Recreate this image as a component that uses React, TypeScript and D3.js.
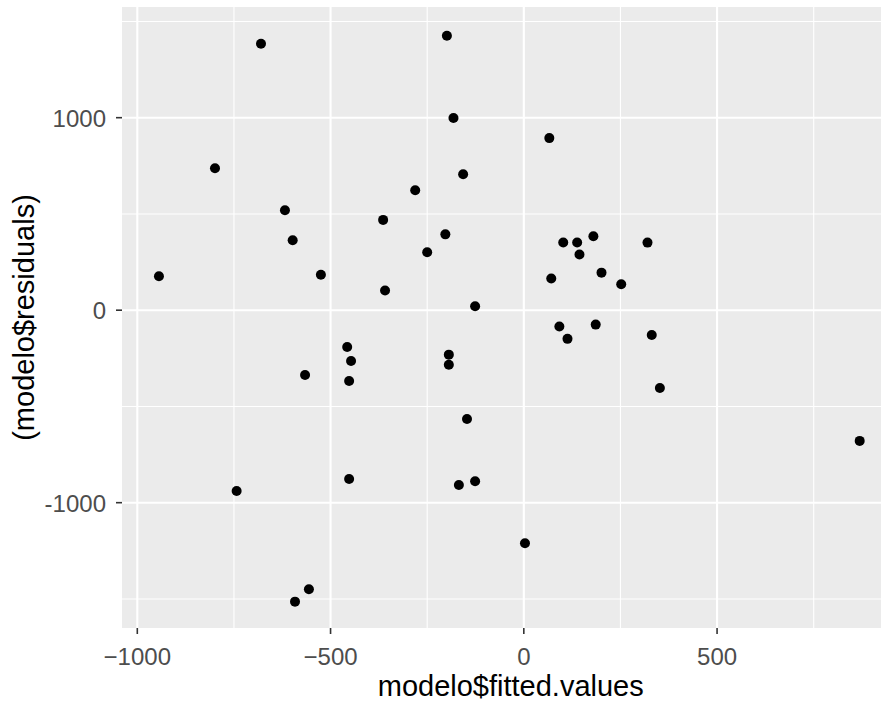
import React from "react";
import * as d3 from "d3";

const fittedValues: number[] = [
  -944, -799, -680, -618, -598, -525, -743, -592, -556, -566,
  -457, -447, -452, -452, -364, -359, -281, -250, -203, -199,
  -182, -157, -126, -194, -194, -147, -168, -126, 3, 66,
  71, 102, 138, 180, 144, 201, 252, 92, 186, 113,
  320, 331, 352, 869,
];
const residuals: number[] = [
  176, 737, 1384, 519, 363, 184, -939, -1514, -1450, -337,
  -191, -264, -368, -877, 469, 102, 623, 301, 394, 1426,
  998, 706, 20, -231, -283, -565, -908, -889, -1211, 894,
  165, 352, 352, 384, 289, 195, 135, -85, -75, -149,
  351, -129, -404, -679,
];

const xMajor = [-1000, -500, 0, 500];
const xMinor = [-750, -250, 250, 750];
const yMajor = [-1000, 0, 1000];
const yMinor = [-1500, -500, 500, 1500];

const xTitle = "modelo$fitted.values";
const yTitle = "(modelo$residuals)";

export default function App() {
  const W = 881;
  const H = 704;
  const left = 122;
  const top = 7;
  const bottom = 628;
  const x = d3.scaleLinear().domain([-1039.6, 972]).range([left, 899.5]);
  const y = d3.scaleLinear().domain([-1651, 1575]).range([bottom, top]);
  const right = x.range()[1];
  const font = "'Liberation Sans', Arial, sans-serif";
  const data = fittedValues.map((v, i) => ({ x: v, y: residuals[i] }));

  return (
    <svg
      width={W}
      height={H}
      style={{ position: "absolute", left: 0, top: 0, background: "#fff" }}
    >
      <rect x={0} y={0} width={W} height={H} fill="#fff" />
      <rect x={left} y={top} width={right - left} height={bottom - top} fill="#EBEBEB" />
      {yMinor.map((v) => (
        <line key={"ym" + v} x1={left} x2={right} y1={y(v)} y2={y(v)} stroke="#fff" strokeWidth={1.1} />
      ))}
      {xMinor.map((v) => (
        <line key={"xm" + v} x1={x(v)} x2={x(v)} y1={top} y2={bottom} stroke="#fff" strokeWidth={1.1} />
      ))}
      {yMajor.map((v) => (
        <line key={"yM" + v} x1={left} x2={right} y1={y(v)} y2={y(v)} stroke="#fff" strokeWidth={2.1} />
      ))}
      {xMajor.map((v) => (
        <line key={"xM" + v} x1={x(v)} x2={x(v)} y1={top} y2={bottom} stroke="#fff" strokeWidth={2.1} />
      ))}
      {data.map((d, i) => (
        <circle key={i} cx={x(d.x)} cy={y(d.y)} r={5} fill="#000" />
      ))}
      {xMajor.map((v) => (
        <g key={"xt" + v}>
          <line x1={x(v)} x2={x(v)} y1={bottom} y2={bottom + 6} stroke="#333" strokeWidth={1.6} />
          <text
            x={x(v)}
            y={665}
            textAnchor="middle"
            fontFamily={font}
            fontSize={24}
            fill="#4D4D4D"
          >
            {d3.format("d")(v).replace("-", "-")}
          </text>
        </g>
      ))}
      {yMajor.map((v) => (
        <g key={"yt" + v}>
          <line x1={left - 6} x2={left} y1={y(v)} y2={y(v)} stroke="#333" strokeWidth={1.6} />
          <text
            x={106}
            y={y(v)}
            dy="0.38em"
            textAnchor="end"
            fontFamily={font}
            fontSize={24}
            fill="#4D4D4D"
          >
            {String(v)}
          </text>
        </g>
      ))}
      <text
        x={(left + right) / 2}
        y={696}
        textAnchor="middle"
        fontFamily={font}
        fontSize={29}
        fill="#000"
      >
        {xTitle}
      </text>
      <text
        transform={`translate(33.5, ${(top + bottom) / 2}) rotate(-90)`}
        textAnchor="middle"
        fontFamily={font}
        fontSize={29}
        fill="#000"
      >
        {yTitle}
      </text>
    </svg>
  );
}
